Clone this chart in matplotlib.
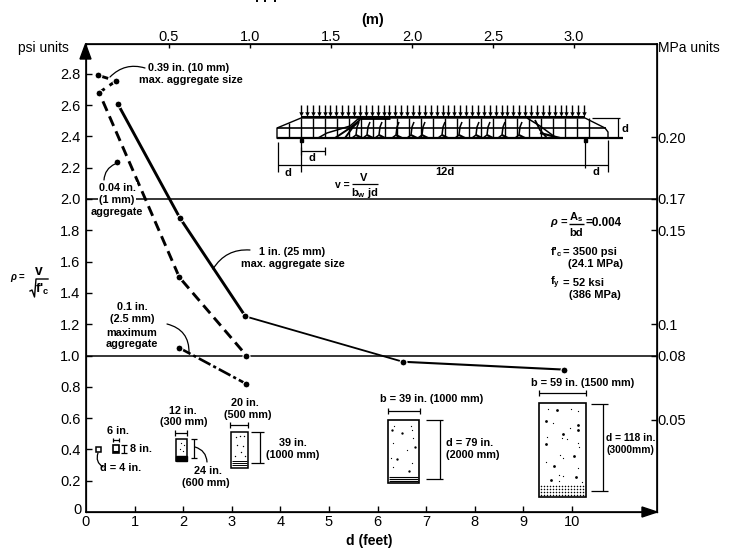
import matplotlib
matplotlib.use('Agg')
import matplotlib.pyplot as plt
import numpy as np
from matplotlib.patches import FancyArrowPatch, Polygon, Rectangle

plt.rcParams['font.family'] = ['Liberation Sans', 'DejaVu Sans']
plt.rcParams['mathtext.fontset'] = 'custom'
plt.rcParams['mathtext.rm'] = 'Liberation Sans:bold'
plt.rcParams['mathtext.it'] = 'Liberation Sans:italic:bold'
plt.rcParams['mathtext.bf'] = 'Liberation Sans:bold'

# curves, d in feet and v/sqrt(f'c) in psi units
d_25mm = [0.65, 1.93, 3.28, 6.52, 9.83]
v_25mm = [2.61, 1.88, 1.25, 0.96, 0.91]
d_10mm = [0.25, 0.62, 0.27, 1.92, 3.30]
v_10mm = [2.79, 2.755, 2.68, 1.50, 1.00]
d_2mm = [1.91, 3.29]
v_2mm = [1.05, 0.82]
d_1mm = [0.64]
v_1mm = [2.235]

# axis ticks
feet_ticks = list(range(0, 11))
psi_ticks = [0.2, 0.4, 0.6, 0.8, 1.0, 1.2, 1.4, 1.6, 1.8, 2.0, 2.2, 2.4, 2.6, 2.8]
metre_ticks = [0.5, 1.0, 1.5, 2.0, 2.5, 3.0]
mpa_labels = ['0.20', '0.17', '0.15', '0.1', '0.08', '0.05']
mpa_at_psi = [2.395, 2.0, 1.80, 1.20, 1.0, 0.59]

W, H = 734, 548
fig = plt.figure(figsize=(W / 100, H / 100), dpi=100)
ax = fig.add_axes([86 / W, 1 - 512 / H, (657 - 86) / W, (512 - 44) / H])
ax.set_xlim(0, (657 - 86) / 48.6)
ax.set_ylim(0, (512 - 44) / 156.5)
for s in ax.spines.values():
    s.set_linewidth(1.2)

ax.set_xticks(feet_ticks[1:])
ax.set_yticks(psi_ticks)
ax.tick_params(axis='both', direction='in', length=4.5, width=1, labelsize=10.5, pad=4)
ax.tick_params(axis='x', pad=2.5)

# top axis in metres
top = ax.twiny()
top.set_xlim((86 - 88) / 162, (657 - 88) / 162)
top.set_xticks(metre_ticks)
top.set_xticklabels(['%.1f' % m for m in metre_ticks])
top.tick_params(direction='in', length=3, width=1, labelsize=10.5, pad=0)

# right axis in MPa
right = ax.twinx()
right.set_ylim(ax.get_ylim())
right.set_yticks(mpa_at_psi)
right.set_yticklabels(mpa_labels)
right.tick_params(direction='in', length=4.5, width=1, labelsize=10.5, pad=0.5)

ax.axhline(1.0, color='k', lw=1.1)
ax.axhline(2.0, color='k', lw=1.1)

# the curves
ax.plot(d_25mm[:3], v_25mm[:3], color='k', lw=2.1)
ax.plot(d_25mm[2:4], v_25mm[2:4], color='k', lw=1.3)
ax.plot(d_25mm[3:], v_25mm[3:], color='k', lw=1.5)
ax.plot(d_10mm, v_10mm, color='k', lw=2.1, ls=(0, (3.6, 2)))
ax.plot(d_2mm, v_2mm, color='k', lw=1.9, ls=(0, (5, 1.2, 1.2, 1.2)))
for xs, ys in [(d_25mm, v_25mm), (d_10mm, v_10mm), (d_2mm, v_2mm), (d_1mm, v_1mm)]:
    ax.plot(xs, ys, 'o', color='k', ms=5, mec='white', mew=0.8, zorder=5)

# overlay in picture pixels for the notes and small drawings
ov = fig.add_axes([0, 0, 1, 1])
ov.set_xlim(0, W)
ov.set_ylim(H, 0)
ov.axis('off')
ov.patch.set_alpha(0)


def note(x, y, s, size=7.8, ha='center', weight='bold', **kw):
    ov.text(x, y, s, fontsize=size, ha=ha, va='center', fontweight=weight, **kw)


def seg(xs, ys, lw=0.9):
    ov.plot(xs, ys, color='k', lw=lw, solid_capstyle='butt')


def leader(a, b, rad):
    ov.add_patch(FancyArrowPatch(a, b, arrowstyle='-', lw=0.9, color='k', shrinkA=0, shrinkB=0,
                                 connectionstyle='arc3,rad=%g' % rad))


def hdim(x0, x1, y, cap=3):
    seg([x0, x1], [y, y])
    seg([x0, x0], [y - cap, y + cap])
    seg([x1, x1], [y - cap, y + cap])


def vdim(x, y0, y1, x0=None, x1=None):
    seg([x, x], [y0, y1])
    seg([x0 or x - 3, x1 or x + 3], [y0, y0])
    seg([x0 or x - 3, x1 or x + 3], [y1, y1])


# axis heads and titles
ov.add_patch(Polygon([[85.5, 44], [80, 59], [91, 59]], color='k'))
ov.add_patch(Polygon([[657, 512], [642, 507], [642, 517]], color='k'))
note(43, 48, 'psi units', 10, weight='normal')
note(658, 48, 'MPa units', 10, ha='left', weight='normal')
note(373, 20, '(m)', 10.5)
note(369, 541, 'd (feet)', 10)
note(78, 510, '0', 10.5, weight='normal')
note(86, 522, '0', 10.5, weight='normal')
# bits of the cropped line above the chart
for x in [257, 265, 275]:
    seg([x, x], [0, 2], 1.4)

# curve notes
note(189, 68, '0.39 in. (10 mm)')
note(191, 80, 'max. aggregate size')
leader((110, 77), (145, 68), -0.3)
for y, s in [(188, '0.04 in.'), (200, '(1 mm)'), (212, 'aggregate')]:
    note(117, y, s, bbox=dict(fc='white', ec='none', pad=0.8))
leader((104, 180), (115, 164), -0.3)
note(292, 252, '1 in. (25 mm)')
note(293, 264, 'max. aggregate size')
leader((213, 269), (250, 250), -0.3)
for y, s in [(307, '0.1 in.'), (319, '(2.5 mm)'), (333, 'maximum'), (344, 'aggregate')]:
    note(132, y, s)
leader((167, 324), (189, 353), -0.4)

# shear stress label
note(18, 278, r'$\rho$ =', 7)
note(39, 271, 'v', 10)
ov.plot([30, 32, 34.5, 36, 48], [291, 290, 297, 279, 279], color='k', lw=1)
note(42, 289, r"f$'_{\mathrm{c}}$", 9.5)

# material notes on the right
note(550, 223, r'$\rho$ =', 8, ha='left')
note(576, 217, r'A$_{\mathrm{s}}$', 8)
seg([569, 584], [224, 224], 1)
note(576, 233, 'bd', 8)
note(586, 223, '=0.004', 8.4, ha='left')
note(550, 252, r"f$'_{\mathrm{c}}$", 8, ha='left')
note(563, 252, '= 3500 psi', 8, ha='left')
note(568, 264, '(24.1 MPa)', 8, ha='left')
note(550, 283, r'f$_{\mathrm{y}}$', 8, ha='left')
note(563, 283, '= 52 ksi', 8, ha='left')
note(569, 295, '(386 MPa)', 8, ha='left')

# test beam
ov.plot([277, 277, 301, 585, 605, 608, 608], [138, 128, 118, 118, 128, 132, 138], color='k', lw=1)
seg([277, 623], [138, 138], 1.6)
seg([301, 585], [117, 117], 1.5)
seg([277, 606], [128, 128], 1.2)
for x in np.arange(289, 598, 12):
    top_y = 123 if x == 289 else (124 if x == 597 else 118)
    seg([x, x], [top_y, 138], 1)
for x in np.arange(301, 586, 5.9):
    seg([x, x], [105, 114], 1)
    ov.plot([x], [114], 'v', color='k', ms=3.2, mew=0)
# cracks
seg([357, 390], [118, 118], 2)
seg([318, 327, 337, 350, 358], [138, 133, 130, 126, 119], 1.1)
seg([335, 350, 360], [138, 128, 120], 1.4)
seg([345, 353, 358], [138, 127, 122], 1.4)
for x in [357, 368, 380, 397, 412, 423, 443, 460, 477, 488, 503, 520]:
    seg([x - 5, x - 1, x, x + 2], [138, 135, 127, 122], 1.1)
    seg([x - 1, x + 5], [135, 138], 1.5)
seg([527, 540, 555], [118, 126, 137], 1.1)
seg([535, 540, 547], [120, 130, 138], 1.3)
seg([540, 560], [133, 138], 1.6)
for x in [301, 585]:
    ov.add_patch(Rectangle((x - 1.5, 139), 3, 3, color='k'))
# beam dimensions
seg([278, 278], [142, 172])
seg([301, 301], [142, 172])
seg([585, 585], [142, 168])
seg([608, 608], [140, 172])
seg([278, 608], [165, 165])
hdim(301, 325, 151, 4)
note(288, 173, 'd', 8)
note(312, 158, 'd', 8)
note(445, 172, '12d', 8)
note(596, 172, 'd', 8)
seg([592, 620], [118, 118])
seg([618, 618], [118, 138])
note(625, 129, 'd', 8)
note(342, 185, 'v =', 7.5)
note(364, 178, 'V', 8)
seg([352, 378], [184, 184])
note(365, 193, r'b$_{\mathrm{w}}$ jd', 8)

# beam sections, 4 in.
ov.add_patch(Rectangle((96, 447), 5, 5, fc='none', ec='k', lw=1.1))
leader((98, 453), (103, 467), 0.4)
note(121, 468, 'd = 4 in.')
note(118, 431, '6 in.')
hdim(113, 119, 440, 2)
ov.add_patch(Rectangle((113, 445), 6, 8, fc='none', ec='k', lw=1.2))
seg([113, 119], [452, 452], 1.5)
vdim(124, 445, 453)
note(130, 449, '8 in.', ha='left')

# 12 in.
note(183, 411, '12 in.')
note(184, 422, '(300 mm)')
hdim(175, 187, 433)
ov.add_patch(Rectangle((176, 439), 11, 22, fc='none', ec='k', lw=1.1))
ov.add_patch(Rectangle((176, 456), 11, 5, color='k'))
ov.plot([181, 184, 180, 183], [443, 445, 449, 451], 'o', color='k', ms=0.9, mew=0)
vdim(194, 439, 458)
leader((195, 447), (207, 462), -0.35)
note(208, 471, '24 in.')
note(206, 483, '(600 mm)')

# 20 in.
note(245, 403, '20 in.')
note(248, 415, '(500 mm)')
hdim(230, 248, 425)
ov.add_patch(Rectangle((231, 432), 17, 36, fc='none', ec='k', lw=1.1))
for y in [461, 463, 465]:
    seg([232, 247], [y, y], 0.7)
ov.plot([236, 240, 244, 237, 243, 241, 235, 245], [437, 436, 436, 445, 446, 452, 456, 456],
        'o', color='k', ms=1, mew=0)
vdim(260, 432, 463, 251, 264)
note(293, 443, '39 in.')
note(293, 455, '(1000 mm)')

# 39 in.
big_39 = [(97, 280), (135, 322), (80, 357), (116, 392), (65, 270)]
small_39 = [(122, 258), (125, 270), (72, 257), (68, 310), (130, 295), (112, 330), (62, 355), (125, 368), (70, 380)]
note(432, 399, 'b = 39 in. (1000 mm)')
hdim(388, 420, 411)
ov.add_patch(Rectangle((388, 420), 31, 63, fc='none', ec='k', lw=1.2))
for y in [477, 479, 481]:
    seg([389, 418], [y, y], 0.8)
ov.plot([370 + p[0] / 3 for p in big_39], [340 + p[1] / 3 for p in big_39], 'o', color='k', ms=1.7, mew=0)
ov.plot([370 + p[0] / 3 for p in small_39], [340 + p[1] / 3 for p in small_39], 'o', color='k', ms=0.9, mew=0)
vdim(440, 420, 479, 426, 443)
note(446, 443, 'd = 79 in.', ha='left')
note(446, 455, '(2000 mm)', ha='left')

# 59 in.
big_59 = [(560, 210), (528, 243), (623, 256), (625, 270), (580, 282), (527, 313), (612, 348), (552, 378),
          (544, 420), (617, 411)]
small_59 = [(535, 208), (603, 208), (625, 212), (548, 250), (600, 265), (530, 290), (575, 295), (590, 298),
            (625, 310), (628, 322), (570, 345), (580, 355), (528, 365), (625, 385), (568, 405), (580, 408),
            (568, 422), (635, 425)]
note(583, 383, 'b = 59 in. (1500 mm)')
hdim(539, 586, 393)
ov.add_patch(Rectangle((539, 403), 47, 94, fc='none', ec='k', lw=1.2))
ov.plot([370 + p[0] / 3 for p in big_59], [340 + p[1] / 3 for p in big_59], 'o', color='k', ms=2, mew=0)
ov.plot([370 + p[0] / 3 for p in small_59], [340 + p[1] / 3 for p in small_59], 'o', color='k', ms=0.9, mew=0)
for y in np.arange(486, 496, 3):
    ov.plot(np.arange(541, 585, 3), np.full(15, y), 'o', color='k', ms=1.1, mew=0)
vdim(603, 404, 491, 591, 608)
note(631, 438, 'd = 118 in.', 7.4)
note(630, 450, '(3000mm)', 7.4)

fig.savefig('out.png', dpi=100)
